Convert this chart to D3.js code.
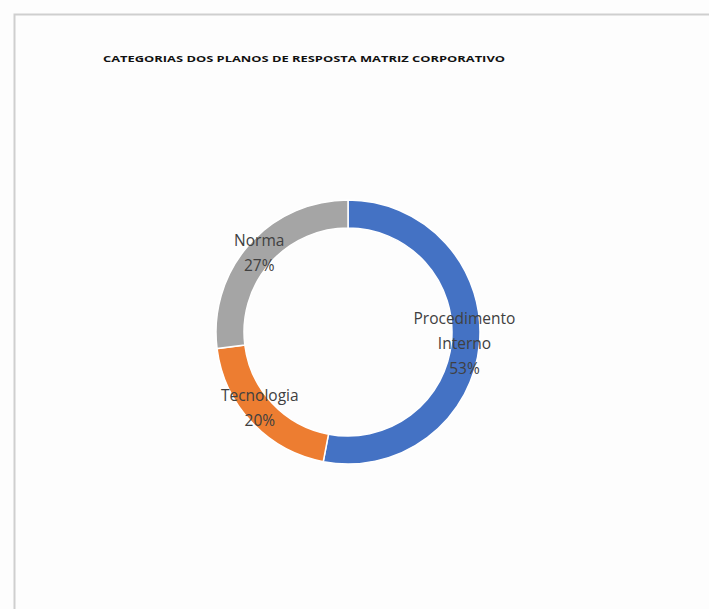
<!DOCTYPE html>
<html>
<head>
<meta charset="utf-8">
<script src="https://cdn.jsdelivr.net/npm/d3@7"></script>
<style>
  html, body { margin: 0; padding: 0; background: #fdfdfd; }
  svg { display: block; }
</style>
</head>
<body>
<svg id="chart" width="709" height="609"></svg>
<script>
// Plan categories and their shares (percent)
const categories = ["Procedimento Interno", "Tecnologia", "Norma"];
const shares = [53, 20, 27];
const labelLines = [["Procedimento", "Interno"], ["Tecnologia"], ["Norma"]];
const colors = ["#4472C4", "#ED7D31", "#A5A5A5"];
const title = "CATEGORIAS DOS PLANOS DE RESPOSTA MATRIZ CORPORATIVO";

const svg = d3.select("#chart");
const W = 709, H = 609;

// chart frame
svg.append("path")
  .attr("d", `M14.5,${H} V14.5 H${W}`)
  .attr("fill", "none")
  .attr("stroke", "#cfcfcf")
  .attr("stroke-width", 2);

svg.append("text")
  .attr("x", 103)
  .attr("y", 62)
  .attr("font-family", "'Open Sans', sans-serif")
  .attr("font-weight", 700)
  .attr("font-size", 8.8)
  .attr("fill", "#111111")
  .attr("textLength", 402)
  .attr("lengthAdjust", "spacingAndGlyphs")
  .text(title);

const cx = 348, cy = 332, rOuter = 132, rInner = 104;
const g = svg.append("g").attr("transform", `translate(${cx},${cy})`);

const pie = d3.pie().sort(null).value(d => d.value);
const data = categories.map((c, i) => ({ name: c, value: shares[i], lines: labelLines[i], color: colors[i] }));
const arcs = pie(data);
const arc = d3.arc().innerRadius(rInner).outerRadius(rOuter);

g.selectAll("path.slice")
  .data(arcs)
  .join("path")
  .attr("class", "slice")
  .attr("d", arc)
  .attr("fill", d => d.data.color)
  .attr("stroke", "#ffffff")
  .attr("stroke-width", 1.5);

// data labels around the ring, with small per-label nudges
const nudge = { "Procedimento Interno": [-4, 1], "Tecnologia": [0, -6], "Norma": [2, 2] };
const total = d3.sum(shares);
const labelArc = d3.arc().innerRadius(rInner + 3).outerRadius(rOuter + 3);
const lineH = 25;
arcs.forEach(a => {
  const c = labelArc.centroid(a);
  const n = nudge[a.data.name];
  const lx = c[0] + n[0], ly = c[1] + n[1];
  const lines = a.data.lines.concat([Math.round(a.data.value / total * 100) + "%"]);
  const t = g.append("text")
    .attr("text-anchor", "middle")
    .attr("font-family", "'Open Sans', sans-serif")
    .attr("font-size", 15.5)
    .attr("fill", "#404040");
  const y0 = ly - (lines.length - 1) * lineH / 2 + 5;
  lines.forEach((s, i) => {
    t.append("tspan").attr("x", lx).attr("y", y0 + i * lineH).text(s);
  });
});
</script>
</body>
</html>
